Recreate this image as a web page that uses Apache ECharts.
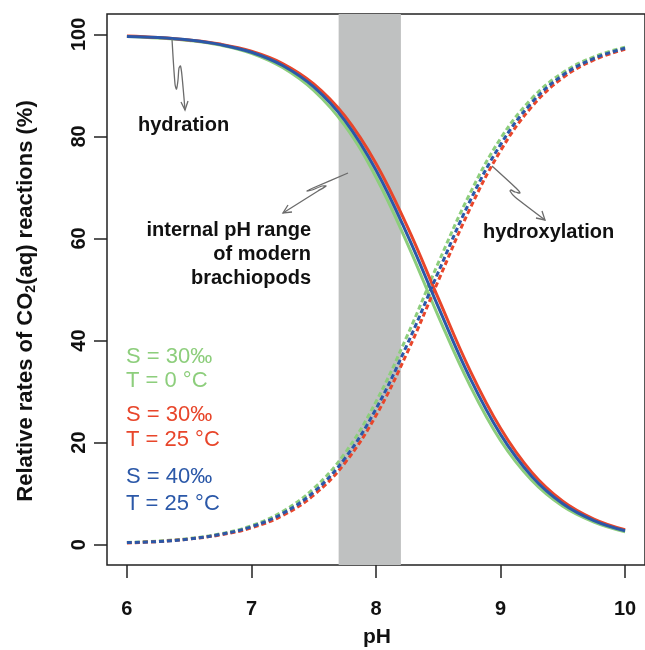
<!DOCTYPE html>
<html>
<head>
<meta charset="utf-8">
<script src="https://cdn.jsdelivr.net/npm/echarts@6/dist/echarts.min.js"></script>
<style>
html,body{margin:0;padding:0;background:#fff;}
#chart{width:645px;height:650px;}
</style>
</head>
<body>
<div id="chart"></div>
<script>
// pH grid points (x axis)
const pH = [6.0, 6.25, 6.5, 6.75, 7.0, 7.25, 7.5, 7.75, 8.0, 8.25, 8.5, 8.75, 9.0, 9.25, 9.5, 9.75, 10.0];
// hydration (%)
const hydrationS30T0  = [99.6, 99.3, 98.8, 97.9, 96.3, 93.5, 89.0, 82.1, 72.0, 59.1, 44.8, 31.4, 20.4, 12.6, 7.5, 4.4, 2.5];
const hydrationS30T25 = [99.7, 99.4, 98.9, 98.1, 96.7, 94.3, 90.3, 84.0, 74.7, 62.4, 48.3, 34.4, 22.8, 14.2, 8.5, 5.0, 2.9];
const hydrationS40T25 = [99.6, 99.4, 98.9, 98.0, 96.5, 93.9, 89.7, 83.1, 73.4, 60.8, 46.6, 32.9, 21.6, 13.4, 8.0, 4.7, 2.7];
// hydroxylation (%)
const hydroxS30T0  = [0.4, 0.7, 1.2, 2.1, 3.7, 6.5, 11.0, 17.9, 28.0, 40.9, 55.2, 68.6, 79.6, 87.4, 92.5, 95.6, 97.5];
const hydroxS30T25 = [0.3, 0.6, 1.1, 1.9, 3.3, 5.7, 9.7, 16.0, 25.3, 37.6, 51.7, 65.6, 77.2, 85.8, 91.5, 95.0, 97.1];
const hydroxS40T25 = [0.4, 0.6, 1.1, 2.0, 3.5, 6.1, 10.3, 16.9, 26.6, 39.2, 53.4, 67.1, 78.4, 86.6, 92.0, 95.3, 97.3];
// shaded internal pH range
const bandRange = [7.7, 8.2];
const xTicks = [6, 7, 8, 9, 10];
const yTicks = [0, 20, 40, 60, 80, 100];

const GREEN = '#8dce7c', RED = '#e8462b', BLUE = '#2b58a8';
const FONT = '"Liberation Sans", Arial, Helvetica, sans-serif';
const ARROW = '#6b6b6b';

function pairs(ys){ return pH.map((x,i)=>[x, ys[i]]); }

const chart = echarts.init(document.getElementById('chart'), null, {renderer:'canvas'});

function lineSeries(data, color, dashed, z){
  return {
    type:'line', data: pairs(data), smooth:0.4, showSymbol:false, symbol:'none', z:z,
    lineStyle:{color:color, width:3, type: dashed ? [5,3] : 'solid', cap:'butt'},
    silent:true, animation:false
  };
}
function pl(points, smooth){
  return {type:'polyline', z:10, silent:true, shape:{points:points, smooth:smooth||0}, style:{stroke:ARROW, lineWidth:1.3, fill:null}};
}

const option = {
  animation:false,
  backgroundColor:'#fff',
  grid:{left:107, top:14, width:540, height:551, show:true, borderColor:'#222', borderWidth:1.5, backgroundColor:'transparent', containLabel:false},
  xAxis:{
    type:'value', min:5.84, max:10.16,
    axisLine:{show:false, onZero:false},
    splitLine:{show:false},
    axisTick:{show:true, inside:false, length:13, lineStyle:{color:'#222', width:1.5}, customValues:xTicks},
    axisLabel:{customValues:xTicks, margin:34, color:'#111', fontFamily:FONT, fontWeight:'bold', fontSize:20}
  },
  yAxis:{
    type:'value', min:-4, max:104,
    axisLine:{show:false, onZero:false},
    splitLine:{show:false},
    axisTick:{show:true, inside:false, length:13, lineStyle:{color:'#222', width:1.5}, customValues:yTicks},
    axisLabel:{customValues:yTicks, rotate:90, margin:18, color:'#111', fontFamily:FONT, fontWeight:'bold', fontSize:20}
  },
  series:[
    {
      type:'line', data:[], z:1, silent:true,
      markArea:{silent:true, itemStyle:{color:'#bfc1c1', opacity:1}, data:[[{xAxis:bandRange[0]},{xAxis:bandRange[1]}]]}
    },
    lineSeries(hydrationS30T0, GREEN, false, 3),
    lineSeries(hydrationS30T25, RED, false, 4),
    lineSeries(hydrationS40T25, BLUE, false, 5),
    lineSeries(hydroxS30T0, GREEN, true, 3),
    lineSeries(hydroxS30T25, RED, true, 4),
    lineSeries(hydroxS40T25, BLUE, true, 5)
  ],
  graphic:[
    // axis titles
    {type:'text', x:377, y:637, style:{text:'pH', font:'bold 21px '+FONT, fill:'#111', align:'center', verticalAlign:'middle'}},
    {type:'text', x:26, y:301, rotation:Math.PI/2,
      style:{text:'{a|Relative rates of CO}{s|2}{a|(aq) reactions (%)}', align:'center', verticalAlign:'middle',
        rich:{a:{fontFamily:FONT, fontWeight:'bold', fontSize:22, fill:'#111', color:'#111'},
              s:{fontFamily:FONT, fontWeight:'bold', fontSize:14, fill:'#111', color:'#111', padding:[11,0,0,0]}}}},
    // annotations
    {type:'text', x:138, y:125, style:{text:'hydration', font:'bold 20px '+FONT, fill:'#111', verticalAlign:'middle'}},
    {type:'text', x:311, y:254, style:{text:'internal pH range\nof modern\nbrachiopods', font:'bold 20px '+FONT, fill:'#111', align:'right', verticalAlign:'middle', lineHeight:24}},
    {type:'text', x:483, y:232, style:{text:'hydroxylation', font:'bold 20px '+FONT, fill:'#111', verticalAlign:'middle'}},
    // legend-like labels
    {type:'text', x:126, y:357, style:{text:'S = 30‰', font:'22px '+FONT, fill:GREEN, verticalAlign:'middle'}},
    {type:'text', x:126, y:381, style:{text:'T = 0 °C', font:'22px '+FONT, fill:GREEN, verticalAlign:'middle'}},
    {type:'text', x:126, y:415, style:{text:'S = 30‰', font:'22px '+FONT, fill:RED, verticalAlign:'middle'}},
    {type:'text', x:126, y:440, style:{text:'T = 25 °C', font:'22px '+FONT, fill:RED, verticalAlign:'middle'}},
    {type:'text', x:126, y:477, style:{text:'S = 40‰', font:'22px '+FONT, fill:BLUE, verticalAlign:'middle'}},
    {type:'text', x:126, y:504, style:{text:'T = 25 °C', font:'22px '+FONT, fill:BLUE, verticalAlign:'middle'}},
    // squiggly arrows
    pl([[172,39],[175,84],[176.5,89],[178,80],[179,68],[180.5,66],[182,76],[185,110]], 0.3),
    pl([[181,102],[185,110],[188,101]]),
    pl([[348,173],[313,188],[307,191],[312,190],[322,186],[326,186],[318,191],[283,213]], 0.2),
    pl([[292,212],[283,213],[288,205]]),
    pl([[492,166],[516,188],[520,193],[515,192],[511,190],[510,191],[515,197],[545,220]], 0.2),
    pl([[536,218],[545,220],[542,211]])
  ]
};
chart.setOption(option);
</script>
</body>
</html>
